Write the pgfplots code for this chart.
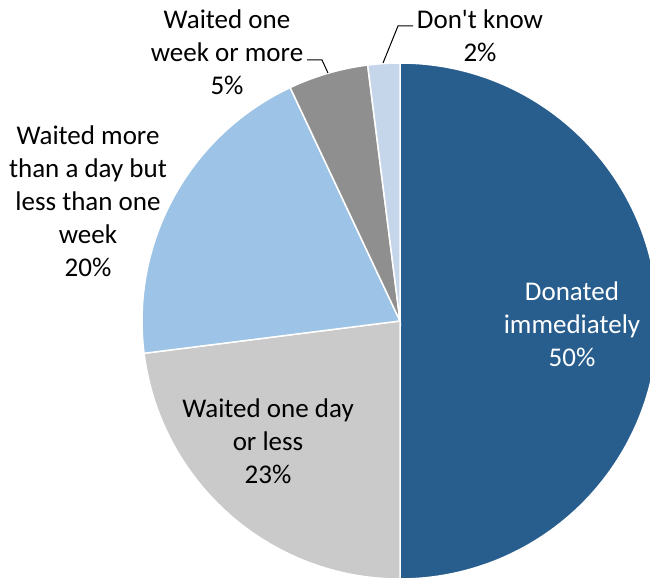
\documentclass[border=0pt]{standalone}
\usepackage{pgfplots}
\pgfplotsset{compat=1.18}
\usepackage{fontspec}
\setmainfont{Carlito}
\definecolor{cDon}{RGB}{40,94,142}
\definecolor{cDay}{RGB}{202,202,202}
\definecolor{cWeek}{RGB}{157,195,230}
\definecolor{cMore}{RGB}{143,143,143}
\definecolor{cDK}{RGB}{198,214,234}
% pie values (percent), clockwise from 12 o'clock
\def\vA{50}\def\vB{23}\def\vC{20}\def\vD{5}\def\vE{2}
\begin{document}
\begin{tikzpicture}
\begin{axis}[
  name=ax,
  x=1pt, y=1pt,
  xmin=0, xmax=650, ymin=0, ymax=579,
  axis lines=none, clip=true,
  enlargelimits=false,
]
\pgfmathsetmacro{\aA}{90}
\pgfmathsetmacro{\aB}{\aA-\vA*3.6}
\pgfmathsetmacro{\aC}{\aB-\vB*3.6}
\pgfmathsetmacro{\aD}{\aC-\vC*3.6}
\pgfmathsetmacro{\aE}{\aD-\vD*3.6}
\pgfmathsetmacro{\aF}{\aE-\vE*3.6}
\def\cx{400}\def\cy{258}
\fill[cDon, draw=white, line width=1.5pt] (axis cs:\cx,\cy) -- ++(\aA:258pt) arc[start angle=\aA, end angle=\aB, radius=258pt] -- cycle;
\fill[cDay, draw=white, line width=1.5pt] (axis cs:\cx,\cy) -- ++(\aB:258pt) arc[start angle=\aB, end angle=\aC, radius=258pt] -- cycle;
\fill[cWeek, draw=white, line width=1.5pt] (axis cs:\cx,\cy) -- ++(\aC:258pt) arc[start angle=\aC, end angle=\aD, radius=258pt] -- cycle;
\fill[cMore, draw=white, line width=1.5pt] (axis cs:\cx,\cy) -- ++(\aD:258pt) arc[start angle=\aD, end angle=\aE, radius=258pt] -- cycle;
\fill[cDK, draw=white, line width=1.5pt] (axis cs:\cx,\cy) -- ++(\aE:258pt) arc[start angle=\aE, end angle=\aF, radius=258pt] -- cycle;
% leader lines
\addplot[black, line width=1pt, mark=none] coordinates {(307,519) (322,519) (328,506)};
\addplot[black, line width=1pt, mark=none] coordinates {(383,516) (398,553) (413,553)};
% labels
\node[align=center, font=\fontsize{27}{33}\selectfont, text=white] at (axis cs:572,255) {Donated\\immediately\\50\%};
\node[align=center, font=\fontsize{27}{33}\selectfont] at (axis cs:268,138) {Waited one day\\or less\\23\%};
\node[align=center, font=\fontsize{27}{33}\selectfont] at (axis cs:88,378) {Waited more\\than a day but\\less than one\\week\\20\%};
\node[align=center, font=\fontsize{27}{33}\selectfont] at (axis cs:227,527) {Waited one\\week or more\\5\%};
\node[align=center, font=\fontsize{27}{33}\selectfont] at (axis cs:480,543) {Don\textquotesingle t know\\2\%};
\end{axis}
\pgfresetboundingbox
\path[use as bounding box] (ax.south west) rectangle (ax.north east);
\end{tikzpicture}
\end{document}
